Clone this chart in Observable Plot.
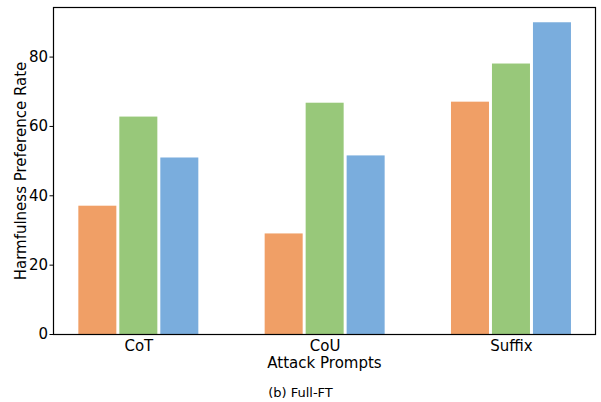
<!DOCTYPE html>
<html>
<head>
<meta charset="utf-8">
<script src="https://cdn.jsdelivr.net/npm/d3@7"></script>
<script src="https://cdn.jsdelivr.net/npm/@observablehq/plot@0.6"></script>
<style>
  body { margin: 0; background: #fff; font-family: "DejaVu Sans", sans-serif; }
  #chart { width: 601px; height: 374px; }
  .caption { width: 601px; text-align: center; font-size: 13px; color: #000; margin-top: 11px; }
</style>
</head>
<body>
<div id="chart"></div>
<div class="caption">(b) Full-FT</div>
<script>
// Attack prompt categories and the three series per category
const categories = ["CoT", "CoU", "Suffix"];
const seriesA = [37, 29, 67];
const seriesB = [62.7, 66.7, 78];
const seriesC = [50.9, 51.5, 89.9];
const seriesColors = ["#f09f66", "#98c87a", "#7aaddd"];
const yTicks = [0, 20, 40, 60, 80];

// Bars are laid out on a numeric x axis: group index plus a per-series offset
const offsets = [-0.22, 0, 0.22];
const halfWidth = 0.102;
const rows = [];
[seriesA, seriesB, seriesC].forEach((values, s) => {
  values.forEach((v, i) => {
    rows.push({ cat: i, series: s, value: v, x1: i + offsets[s] - halfWidth, x2: i + offsets[s] + halfWidth });
  });
});

const chart = Plot.plot({
  width: 601,
  height: 374,
  marginLeft: 53,
  marginRight: 6,
  marginTop: 7,
  marginBottom: 40,
  style: { fontFamily: "DejaVu Sans, sans-serif", fontSize: "15px", color: "#000" },
  x: {
    domain: [-0.458, 2.451],
    ticks: [0, 1, 2],
    tickFormat: (d) => categories[d],
    tickSize: 0,
    tickPadding: 6,
    label: "Attack Prompts",
    labelAnchor: "center",
    labelArrow: "none",
    labelOffset: 33
  },
  y: {
    domain: [0, 94.3],
    ticks: yTicks,
    tickSize: 3.5,
    tickPadding: 2,
    label: "Harmfulness Preference Rate",
    labelAnchor: "center",
    labelArrow: "none",
    labelOffset: 38
  },
  marks: [
    Plot.rect(rows, {
      x1: "x1",
      x2: "x2",
      y1: 0,
      y2: "value",
      fill: (d) => seriesColors[d.series]
    }),
    Plot.frame({ stroke: "#000", strokeWidth: 1.2 })
  ]
});
document.getElementById("chart").appendChild(chart);
</script>
</body>
</html>
